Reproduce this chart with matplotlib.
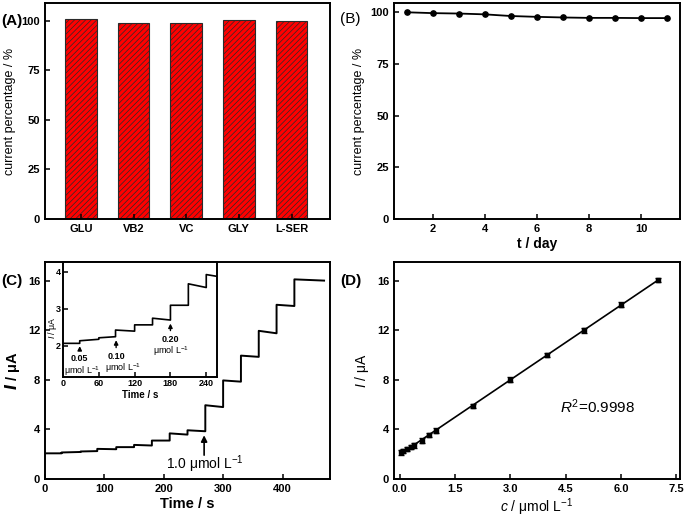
import numpy as np
import matplotlib
matplotlib.use("Agg")
import matplotlib.pyplot as plt

plt.rcParams['font.family'] = ['Liberation Sans', 'DejaVu Sans']
plt.rcParams['hatch.linewidth'] = 0.5
plt.rcParams['mathtext.fontset'] = 'custom'
plt.rcParams['mathtext.rm'] = 'Liberation Sans'
plt.rcParams['mathtext.it'] = 'Liberation Sans:italic'
plt.rcParams['mathtext.bf'] = 'Liberation Sans:bold'

# ---- data ----
# (A) interference
interferents = ["GLU", "VB2", "VC", "GLY", "L-SER"]
interf_pct = [101.0, 99.1, 98.9, 100.4, 100.1]

# (B) stability
days = [1, 2, 3, 4, 5, 6, 7, 8, 9, 10, 11]
stab_pct = [100.0, 99.6, 99.4, 99.0, 98.2, 97.8, 97.5, 97.3, 97.3, 97.2, 97.2]

# (C) amperometric trace: segments between additions
seg_t = [0, 28, 60, 88, 120, 150, 180, 210, 240, 270, 300, 330, 360, 390, 420, 470]
seg_start = [2.07, 2.14, 2.22, 2.43, 2.57, 2.75, 3.10, 3.68, 3.93, 5.95, 7.95, 9.95, 11.95, 14.05, 16.10]
seg_end = [2.07, 2.18, 2.25, 2.40, 2.57, 2.70, 3.10, 3.58, 3.85, 5.80, 7.85, 9.85, 11.75, 13.95, 16.00]

# inset annotations: (time, arrow tip, arrow tail, label, label y, unit x, unit y)
inset_marks = [(28, 2.07, 1.80, '0.05', 1.65, 32, 1.33),
               (89, 2.23, 1.88, '0.10', 1.72, 101, 1.40),
               (180, 2.68, 2.34, '0.20', 2.18, 181, 1.86)]

# (D) calibration
conc = [0.05, 0.1, 0.2, 0.3, 0.4, 0.6, 0.8, 1.0, 2.0, 3.0, 4.0, 5.0, 6.0, 7.0]
curr = [2.15, 2.25, 2.42, 2.57, 2.72, 3.10, 3.55, 3.90, 5.90, 8.00, 10.00, 12.00, 14.05, 16.05]
curr_err = [0.18, 0.18, 0.18, 0.18, 0.2, 0.2, 0.2, 0.2, 0.18, 0.2, 0.2, 0.2, 0.2, 0.2]

W, H = 687, 518
fig = plt.figure(figsize=(W / 100, H / 100), dpi=100)

def rect(l, r, t, b):
    return [l / W, (H - b) / H, (r - l) / W, (b - t) / H]

def style(ax, fs=8, pad=3.5):
    for s in ax.spines.values():
        s.set_linewidth(1.4)
    ax.tick_params(direction='in', width=1.1, length=3.5, labelsize=fs, pad=pad)
    for lab in ax.get_xticklabels() + ax.get_yticklabels():
        lab.set_fontweight('bold')

# ---- A ----
axA = fig.add_axes(rect(45, 330, 3, 219))
xA = np.arange(1, len(interferents) + 1)
axA.bar(xA, interf_pct, width=0.6, color='#ff0000', edgecolor='#2a2a2a',
        hatch='//////', linewidth=0.8)
axA.set_xticks(xA)
axA.set_xticklabels(interferents)
axA.set_xlim(0.32, 5.73)
axA.set_ylim(0, 109)
axA.set_yticks([0, 25, 50, 75, 100])
axA.tick_params(axis='x', length=0)
axA.set_ylabel('current percentage / %', fontsize=9)
style(axA)
fig.text(1 / W, 1 - 21 / H, '(A)', fontsize=11, fontweight='bold', va='center', ha='left')

# ---- B ----
axB = fig.add_axes(rect(394, 680, 3, 219))
axB.plot(days, stab_pct, '-o', color='black', lw=1.3, ms=3.8)
axB.set_xlim(0.5, 11.5)
axB.set_ylim(0, 104.5)
axB.set_xticks([2, 4, 6, 8, 10])
axB.set_yticks([0, 25, 50, 75, 100])
axB.set_xlabel('t / day', fontsize=10, fontweight='bold', labelpad=2)
axB.set_ylabel('current percentage / %', fontsize=9)
style(axB)
fig.text(340 / W, 1 - 19 / H, '(B)', fontsize=11, va='center', ha='left')

# ---- C ----
tx, ty = [], []
for i in range(len(seg_start)):
    tx += [seg_t[i], seg_t[i + 1]]
    ty += [seg_start[i], seg_end[i]]

axC = fig.add_axes(rect(45, 330, 262, 479))
axC.plot(tx, ty, color='black', lw=1.4)
axC.set_xlim(0, 480)
axC.set_ylim(0, 17.5)
axC.set_xticks([0, 100, 200, 300, 400])
axC.set_yticks([0, 4, 8, 12, 16])
axC.set_xlabel('Time / s', fontsize=10.5, fontweight='bold', labelpad=2)
axC.set_ylabel(r'$\mathbfit{I}$ / μA', fontsize=10.5, fontweight='bold')
axC.annotate('', xy=(268, 3.75), xytext=(268, 1.7),
             arrowprops=dict(arrowstyle='-|>', color='black', lw=1.2, mutation_scale=9))
axC.text(270, 1.2, r'1.0 μmol L$^{-1}$', fontsize=10, ha='center', va='center')
style(axC)
fig.text(1 / W, 1 - 281 / H, '(C)', fontsize=11, fontweight='bold', va='center', ha='left')

# inset
axI = fig.add_axes(rect(63, 217, 262, 377))
axI.plot(tx, ty, color='black', lw=1.2)
axI.set_xlim(0, 258)
axI.set_ylim(1.16, 4.27)
axI.set_xticks([0, 60, 120, 180, 240])
axI.set_yticks([2, 3, 4])
axI.set_xlabel('Time / s', fontsize=7, fontweight='bold', labelpad=1)
axI.set_ylabel(r'$\mathit{I}$ / μA', fontsize=6.3)
axI.yaxis.set_label_coords(-0.028, 0.43)
style(axI, fs=6.5, pad=1.8)
for (t0, ytip, ytail, lbl, ylab, ux, uy) in inset_marks:
    axI.annotate('', xy=(t0, ytip), xytext=(t0, ytail),
                 arrowprops=dict(arrowstyle='-|>', color='black', lw=1.0, mutation_scale=6))
    axI.text(t0, ylab, lbl, fontsize=6.5, fontweight='bold', ha='center', va='center')
    axI.text(ux, uy, r'μmol L$^{-1}$', fontsize=6.5, ha='center', va='center')

# ---- D ----
axD = fig.add_axes(rect(394, 680, 262, 479))
p = np.polyfit(conc, curr, 1)
xl = np.array([conc[0], conc[-1]])
axD.plot(xl, np.polyval(p, xl), color='black', lw=1.2)
axD.errorbar(conc, curr, yerr=curr_err, fmt='s', ms=2.5, color='black',
             ecolor='black', elinewidth=1.0, capsize=2.2, capthick=1.0)
axD.set_xlim(-0.15, 7.6)
axD.set_ylim(0, 17.5)
axD.set_xticks([0, 1.5, 3.0, 4.5, 6.0, 7.5])
axD.set_xticklabels(['0.0', '1.5', '3.0', '4.5', '6.0', '7.5'])
axD.set_yticks([0, 4, 8, 12, 16])
axD.set_xlabel(r'$\mathit{c}$ / μmol L$^{-1}$', fontsize=10, labelpad=2)
axD.set_ylabel(r'$\mathit{I}$ / μA', fontsize=10)
axD.text(4.35, 5.85, r'$\mathit{R}^2$=0.9998', fontsize=11, ha='left', va='center')
style(axD)
fig.text(340 / W, 1 - 281 / H, '(D)', fontsize=11, fontweight='bold', va='center', ha='left')

fig.savefig('out.png', dpi=100)
